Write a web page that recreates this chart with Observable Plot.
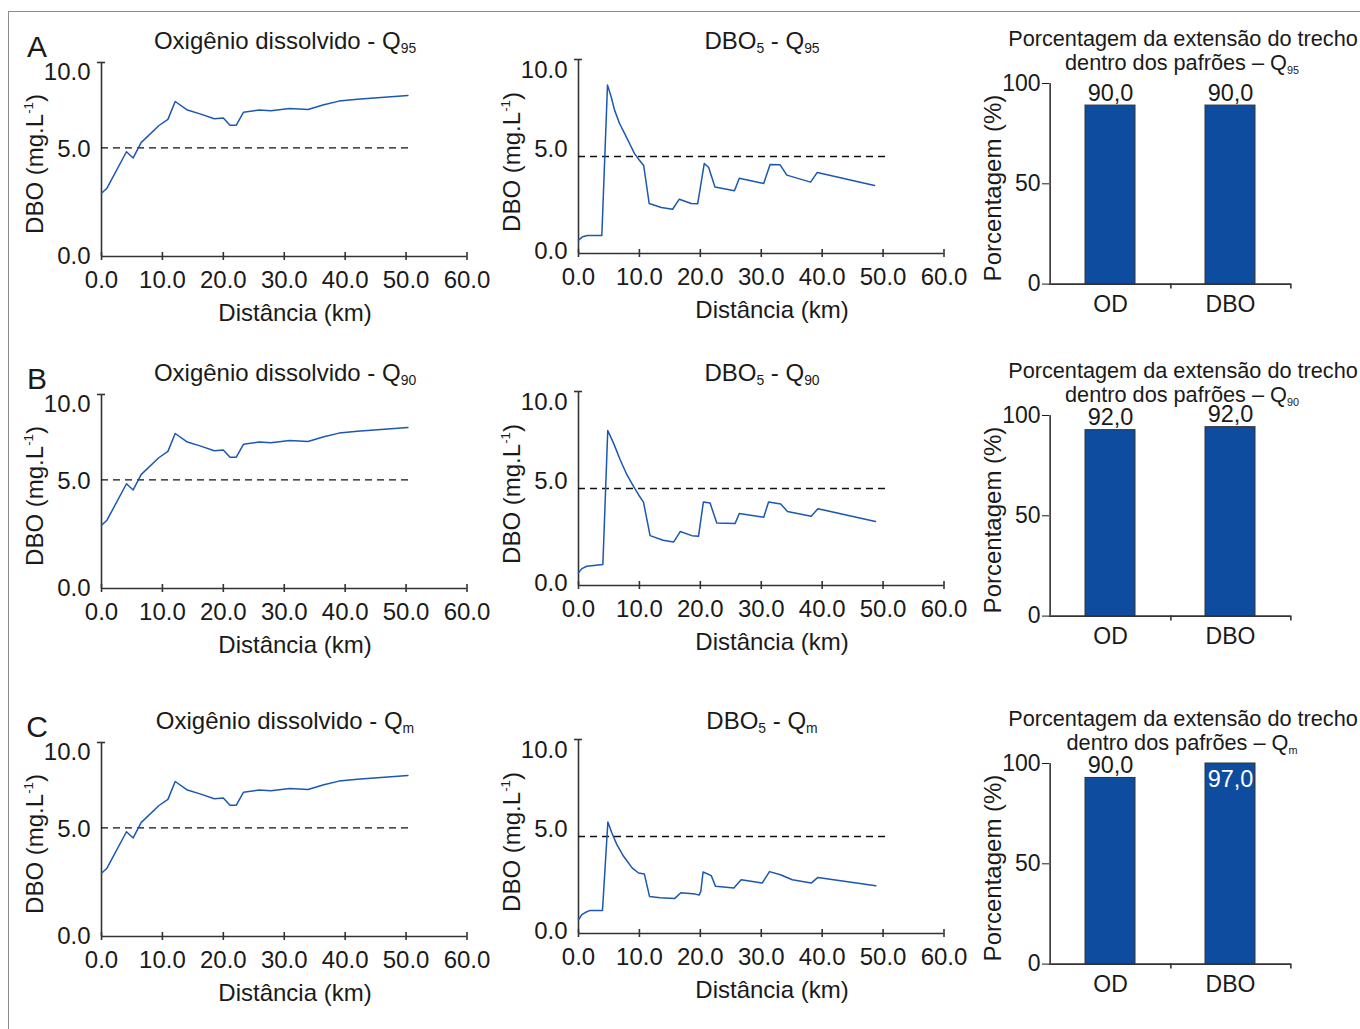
<!DOCTYPE html>
<html>
<head>
<meta charset="utf-8">
<script src="https://cdn.jsdelivr.net/npm/d3@7"></script>
<script src="https://cdn.jsdelivr.net/npm/@observablehq/plot@0.6"></script>
<style>
  html, body { margin: 0; padding: 0; background: #fff; }
  #root { position: relative; width: 1360px; height: 1029px; overflow: hidden;
          font-family: "Liberation Sans", Arial, Helvetica, sans-serif; color: #1a1a1a; }
  .abs { position: absolute; white-space: nowrap; line-height: 1; }
  .frame { position: absolute; left: 8px; top: 11px; width: 1400px; height: 1100px;
           border-top: 1.5px solid #8c8c8c; border-left: 1.5px solid #8c8c8c; }
  .plotbox { position: absolute; }
  .plotbox svg { overflow: visible; }
  sub { font-size: 0.58em; vertical-align: -0.32em; line-height: 0; }
  sub.small { font-size: 0.5em; }
  sup { font-size: 0.55em; vertical-align: 0.75em; line-height: 0; }
</style>
</head>
<body>
<div id="root"><div class="frame"></div></div>
<script>
// ---------------- data ----------------
const xTicks = [0, 10, 20, 30, 40, 50, 60];
const yTicks = [0, 5, 10];
const barTicks = [0, 50, 100];
const barCats = ["OD", "DBO"];
const rowLetters = ["A", "B", "C"];
const rowSubs = ["95", "90", "m"];

// Oxigênio dissolvido profile (same in the three scenarios)
const odKm  = [0.0, 0.9, 4.1, 5.2, 6.5, 9.4, 10.9, 12.1, 14.1, 16.3, 18.5, 20.0, 21.1, 22.1, 23.3, 25.9, 27.8, 30.9, 33.9, 36.5, 39.0, 42.0, 50.3];
const odVal = [3.26, 3.52, 5.40, 5.08, 5.87, 6.74, 7.07, 7.99, 7.55, 7.34, 7.10, 7.14, 6.76, 6.76, 7.43, 7.55, 7.51, 7.63, 7.58, 7.82, 8.01, 8.10, 8.30];
const odThreshold = 5.6;

// DBO5 profiles
const dboKmQ95 = [0, 0.66, 1.48, 3.83, 4.76, 5.37, 5.92, 6.74, 7.56, 8.38, 9.2, 10.0, 10.7, 11.6, 13.6, 15.45, 16.55, 18.5, 19.56, 20.65, 21.37, 22.4, 25.6, 26.4, 30.4, 31.45, 33.1, 34.2, 38.1, 39.2, 48.6];
const dboQ95   = [0.69, 0.86, 0.93, 0.93, 8.68, 8.07, 7.39, 6.70, 6.19, 5.67, 5.15, 4.81, 4.54, 2.58, 2.37, 2.28, 2.80, 2.58, 2.56, 4.64, 4.43, 3.43, 3.23, 3.88, 3.61, 4.59, 4.57, 4.04, 3.68, 4.18, 3.51];
const dboKmQ90 = [0, 0.55, 1.37, 4.0, 4.8, 5.75, 6.84, 7.94, 9.03, 9.85, 10.67, 11.75, 13.9, 15.6, 16.7, 18.6, 19.7, 20.5, 21.6, 22.7, 25.7, 26.4, 30.4, 31.2, 33.2, 34.3, 38.2, 39.3, 48.75];
const dboQ90   = [0.65, 0.87, 0.99, 1.08, 7.99, 7.34, 6.48, 5.71, 5.11, 4.68, 4.30, 2.57, 2.33, 2.24, 2.78, 2.57, 2.54, 4.30, 4.25, 3.22, 3.19, 3.71, 3.52, 4.30, 4.20, 3.82, 3.57, 3.96, 3.30];
const dboKmQm  = [0, 0.55, 1.1, 1.92, 3.94, 4.82, 5.48, 6.3, 7.4, 8.8, 9.86, 10.8, 11.66, 13.4, 15.8, 16.8, 19.2, 19.8, 20.08, 20.45, 21.8, 22.5, 25.5, 26.7, 30.15, 31.35, 33.15, 35.1, 38.2, 39.3, 48.8];
const dboQm    = [0.71, 0.97, 1.08, 1.19, 1.19, 5.75, 5.18, 4.58, 3.98, 3.38, 3.12, 3.07, 1.91, 1.84, 1.81, 2.10, 2.03, 1.98, 2.17, 3.17, 2.98, 2.43, 2.34, 2.77, 2.60, 3.19, 3.03, 2.77, 2.60, 2.89, 2.46];
const dboThreshold = 5.0;
const thresholdSpan = [0, 50.8];

// Percentage bars (drawn heights and printed labels)
const barQ95 = [89, 89];     const barLabQ95 = ["90,0", "90,0"];
const barQ90 = [92.7, 94.2]; const barLabQ90 = ["92,0", "92,0"];
const barQm  = [92.8, 100];  const barLabQm  = ["90,0", "97,0"];

// ---------------- layout & style ----------------
const FONT = '"Liberation Sans", Arial, Helvetica, sans-serif';
const INK = "#1a1a1a";
const AXIS = "#333";
const LINE = "#1b57b3";
const BAR = "#0e4c9f";
const rowTop = [0, 332, 680];
// vertical nudges (px) of the y tick labels, as placed in the original figure
const odLabelShift  = [0, -10, 10];
const dboLabelShift = [-2, -7, 11];

const LM = {l: 80, r: 30, t: 15, b: 45, iw: 365.5, ih: 194};
const BM = {l: 70, r: 25, t: 20, b: 45, iw: 241.5, ih: 200.6};

const root = document.getElementById("root");
const fmt1 = d3.format(".1f");

function place(node, left, top) {
  const box = document.createElement("div");
  box.className = "plotbox";
  box.style.left = left + "px";
  box.style.top = top + "px";
  box.appendChild(node);
  root.appendChild(box);
}

function label(html, x, y, size, rotate = false, extra = {}) {
  const d = document.createElement("div");
  d.className = "abs";
  d.style.left = x + "px";
  d.style.top = y + "px";
  d.style.fontSize = size + "px";
  d.style.transform = "translate(-50%,-50%)" + (rotate ? " rotate(-90deg)" : "");
  Object.assign(d.style, extra);
  d.innerHTML = html;
  root.appendChild(d);
}

function linePanel(km, vals, thr, shifts) {
  const data = km.map((k, i) => ({km: k, v: vals[i]}));
  return Plot.plot({
    width: LM.l + LM.iw + LM.r,
    height: LM.t + LM.ih + LM.b,
    marginLeft: LM.l, marginRight: LM.r, marginTop: LM.t, marginBottom: LM.b,
    style: {fontFamily: FONT, fontSize: "24px", color: INK, background: "transparent", overflow: "visible"},
    x: {domain: [0, 60], label: null},
    y: {domain: [0, 10], label: null},
    marks: [
      Plot.axisX({ticks: xTicks, tickSize: 0, tickPadding: 14, tickFormat: fmt1, label: null}),
      ...yTicks.map((t, i) => Plot.axisY({ticks: [t], tickSize: 0, tickPadding: 11, tickFormat: fmt1, label: null, dy: shifts[i]})),
      Plot.ruleY([0], {stroke: AXIS, strokeWidth: 1.6}),
      Plot.ruleX([0], {stroke: AXIS, strokeWidth: 1.6}),
      Plot.ruleX(xTicks, {x: d => d, y1: () => 0, y2: () => 0, insetTop: -4, insetBottom: -4, stroke: AXIS, strokeWidth: 1.6}),
      Plot.ruleY([yTicks[yTicks.length - 1]], {y: d => d, x1: () => 0, x2: () => 0, insetLeft: -4, insetRight: -4, stroke: AXIS, strokeWidth: 1.6}),
      Plot.ruleY([{y: thr, x1: thresholdSpan[0], x2: thresholdSpan[1]}], {y: "y", x1: "x1", x2: "x2", stroke: "#111", strokeWidth: 1.4, strokeDasharray: "7,5"}),
      Plot.line(data, {x: "km", y: "v", stroke: LINE, strokeWidth: 1.5})
    ]
  });
}

function barPanel(vals, labs) {
  const data = barCats.map((c, i) => ({cat: c, v: vals[i], lab: labs[i]}));
  const step = BM.iw / barCats.length;
  return Plot.plot({
    width: BM.l + BM.iw + BM.r,
    height: BM.t + BM.ih + BM.b,
    marginLeft: BM.l, marginRight: BM.r, marginTop: BM.t, marginBottom: BM.b,
    style: {fontFamily: FONT, fontSize: "23px", color: INK, background: "transparent", overflow: "visible"},
    x: {domain: barCats, paddingInner: 0.585, paddingOuter: 0.2925, label: null},
    y: {domain: [0, 100], label: null},
    marks: [
      Plot.barY(data, {x: "cat", y: "v", fill: BAR, stroke: "#333", strokeWidth: 1}),
      Plot.ruleY([0], {stroke: AXIS, strokeWidth: 1.6}),
      Plot.ruleX(barCats.slice(0, 1), {x: d => d, dx: -step / 2, stroke: AXIS, strokeWidth: 1.6}),
      Plot.ruleX(barCats, {x: d => d, y1: () => 0, y2: () => 0, insetBottom: -5, dx: step / 2, stroke: AXIS, strokeWidth: 1.6}),
      Plot.axisY({ticks: barTicks, tickSize: 7, tickPadding: 2, label: null}),
      Plot.axisX({tickSize: 0, tickPadding: 12, label: null}),
      Plot.text(data.filter(d => d.v < 98), {x: "cat", y: "v", text: "lab", lineAnchor: "bottom", dy: -5, fontSize: 23.5, fill: INK}),
      Plot.text(data.filter(d => d.v >= 98), {x: "cat", y: "v", text: "lab", lineAnchor: "top", dy: 7, fontSize: 23.5, fill: "#fff"})
    ]
  });
}

const dboSets = [[dboKmQ95, dboQ95], [dboKmQ90, dboQ90], [dboKmQm, dboQm]];
const barSets = [[barQ95, barLabQ95], [barQ90, barLabQ90], [barQm, barLabQm]];

rowTop.forEach((t, r) => {
  const sub = rowSubs[r];
  place(linePanel(odKm, odVal, odThreshold, odLabelShift), 101.2 - LM.l, t + 62 - LM.t);
  place(linePanel(dboSets[r][0], dboSets[r][1], dboThreshold, dboLabelShift), 578 - LM.l, t + 59.3 - LM.t);
  place(barPanel(barSets[r][0], barSets[r][1]), 1049 - BM.l, t + 82.7 - BM.t);

  label(rowLetters[r], 37, t + 47, 30);
  label(`Oxigênio dissolvido - Q<sub>${sub}</sub>`, 285, t + 41, 24);
  label(`DBO<sub>5</sub> - Q<sub>${sub}</sub>`, 762, t + 41, 24);
  label("Porcentagem da extensão do trecho", 1183, t + 39, 21.7);
  label(`dentro dos pafrões – Q<sub class="small">${sub}</sub>`, 1182, t + 62.5, 21.7);
  label("DBO (mg.L<sup>-1</sup>)", 35, t + 164, 24, true);
  label("DBO (mg.L<sup>-1</sup>)", 512, t + 162, 24, true);
  label("Porcentagem (%)", 993, t + 188, 24, true);
  label("Distância (km)", 295, t + 313, 24);
  label("Distância (km)", 772, t + 310, 24);
});
</script>
</body>
</html>
